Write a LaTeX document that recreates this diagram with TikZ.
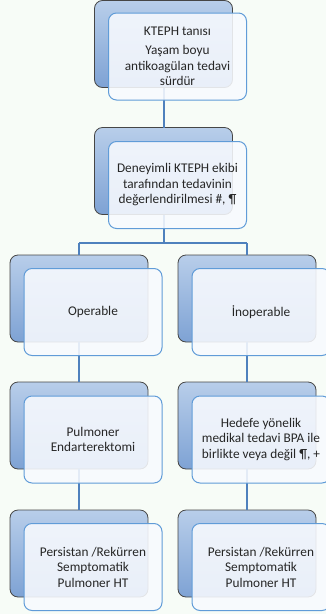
\documentclass[tikz,border=0pt]{standalone}
\usepackage{fontspec}
\setmainfont{Carlito}
\definecolor{bgc}{RGB}{247,252,247}
\definecolor{backtop}{RGB}{184,206,234}
\definecolor{backbot}{RGB}{126,162,212}
\definecolor{backedge}{RGB}{70,70,70}
\definecolor{frontedge}{RGB}{96,156,216}
\definecolor{frontfill}{RGB}{248,250,254}
\definecolor{linec}{RGB}{79,129,189}
\tikzset{
  backbox/.style={draw=backedge, line width=0.8pt, rounded corners=8pt,
    top color=backtop, bottom color=backbot, minimum width=138pt, minimum height=87pt,
    inner sep=0pt, outer sep=0pt},
  frontbox/.style={draw=frontedge, line width=1pt, rounded corners=8pt,
    fill=frontfill, fill opacity=0.88, text opacity=1, minimum width=138pt, minimum height=87pt,
    inner sep=0pt, outer sep=0pt, align=center, font=\fontsize{13.3}{15.5}\selectfont, text=black!85},
  conn/.style={draw=linec, line width=2pt}
}
\begin{document}
\begin{tikzpicture}[x=1pt,y=1pt]
\fill[bgc] (0,0) rectangle (326,-614);
\useasboundingbox (0,0) rectangle (326,-614);
% back boxes
\node[backbox] (b1) at (163.5,-44) {};
\node[backbox] (b2) at (163.5,-171) {};
\node[backbox] (b3l) at (79,-298.5) {};
\node[backbox] (b3r) at (247,-298.5) {};
\node[backbox] (b4l) at (79,-425.5) {};
\node[backbox] (b4r) at (247,-425.5) {};
\node[backbox] (b5l) at (79,-553.5) {};
\node[backbox] (b5r) at (247,-553.5) {};
% connectors
\coordinate (jn) at (163.5,-243);
\coordinate (jl) at (79,-243);
\coordinate (jr) at (247,-243);
\draw[conn] (b1.south) -- (b2.north);
\draw[conn] (b2.south) -- (jn);
\draw[conn] (jl) -- (jr);
\draw[conn] (jl) -- (b3l.north);
\draw[conn] (jr) -- (b3r.north);
\draw[conn] (b3l.south) -- (b4l.north);
\draw[conn] (b3r.south) -- (b4r.north);
\draw[conn] (b4l.south) -- (b5l.north);
\draw[conn] (b4r.south) -- (b5r.north);
% front boxes
\node[frontbox] (f1) at (177.5,-56.5) {KTEPH tanısı\\[4pt]Yaşam boyu\\antikoagülan tedavi\\sürdür};
\node[frontbox] (f2) at (177.5,-185) {Deneyimli KTEPH ekibi\\tarafından tedavinin\\değerlendirilmesi \#, ¶};
\node[frontbox] (f3l) at (93,-312) {Operable};
\node[frontbox] (f3r) at (261,-312) {İnoperable};
\node[frontbox] (f4l) at (93,-439.5) {Pulmoner\\Endarterektomi};
\node[frontbox] (f4r) at (261,-439.5) {Hedefe yönelik\\medikal tedavi BPA ile\\birlikte veya değil ¶, +};
\node[frontbox] (f5l) at (93,-567) {Persistan /Rekürren\\Semptomatik\\Pulmoner HT};
\node[frontbox] (f5r) at (261,-567) {Persistan /Rekürren\\Semptomatik\\Pulmoner HT};
\end{tikzpicture}
\end{document}
